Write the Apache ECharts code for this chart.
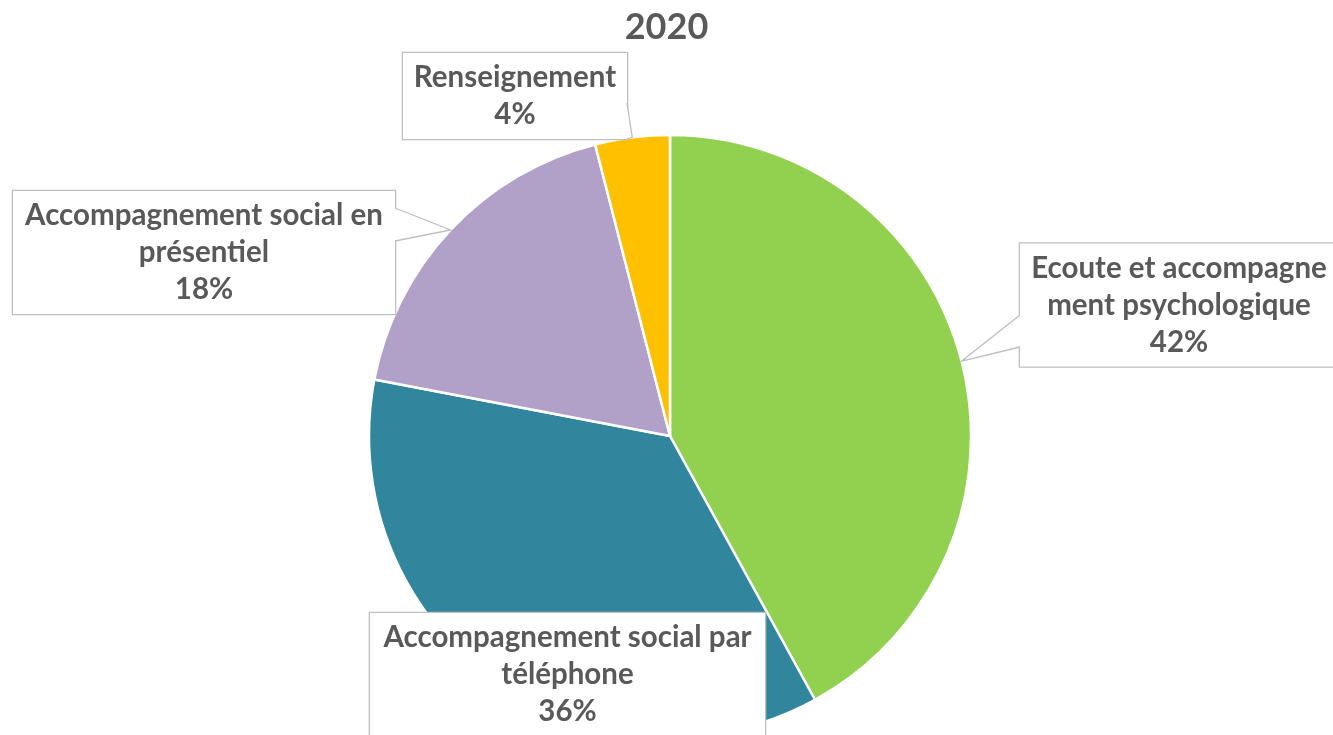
<!DOCTYPE html>
<html><head><meta charset="utf-8">
<script src="https://cdn.jsdelivr.net/npm/echarts@6/dist/echarts.min.js"></script>
<style>html,body{margin:0;padding:0;background:#fff}#c{width:1333px;height:735px}</style>
</head><body><div id="c"></div>
<script>
const chartTitle = '2020';
const categories = ['Ecoute et accompagnement psychologique', 'Accompagnement social par téléphone', 'Accompagnement social en présentiel', 'Renseignement'];
const labelTexts = ['Ecoute et accompagne\nment psychologique', 'Accompagnement social par\ntéléphone', 'Accompagnement social en\nprésentiel', 'Renseignement'];
const values = [42, 36, 18, 4];
const colors = ['#92D050', '#31859C', '#B1A0C7', '#FFC000'];

// layout (style) config
const CX = 670, CY = 436, R = 301;
const boxes = [
  { cx: 1179, cy: 305, w: 318, wedge: [[1020, 315], [1020, 347]], inward: [1, 0] },
  { cx: 567.5, cy: 674.5, w: 395, wedge: null },
  { cx: 204, cy: 252.5, w: 382, wedge: [[395, 208], [395, 241]], inward: [-1, 0] },
  { cx: 515, cy: 96, w: 224, wedge: [[627, 103], [627, 139]], inward: [-1, 0] }
];
const textColor = '#595959', boxBorder = '#BFBFBF';
const fontFam = 'Lato, "Open Sans", sans-serif';

const chart = echarts.init(document.getElementById('c'), null, { renderer: 'canvas' });

const total = values.reduce((a, b) => a + b, 0);
const graphics = [];
let cum = 0;
values.forEach((v, i) => {
  const start = cum / total * 360;
  cum += v;
  const end = cum / total * 360;
  const mid = (start + end) / 2 * Math.PI / 180;
  const tip = [CX + R * Math.sin(mid), CY - R * Math.cos(mid)];
  const b = boxes[i];
  if (!b.wedge) return;
  const [p1, p2] = b.wedge;
  const ix = b.inward[0] * 1.5, iy = b.inward[1] * 1.5;
  graphics.push({
    type: 'polygon', z: 100, silent: true,
    shape: { points: [[p1[0] + ix, p1[1] + iy + 0.7], p1, tip, p2, [p2[0] + ix, p2[1] + iy - 0.7]] },
    style: { fill: '#fff', stroke: null }
  });
  graphics.push({
    type: 'polyline', z: 101, silent: true,
    shape: { points: [p1, tip, p2] },
    style: { stroke: boxBorder, lineWidth: 1.3, fill: null }
  });
});

chart.setOption({
  backgroundColor: '#fff',
  animation: false,
  title: {
    text: chartTitle, left: 'center', top: 4,
    textStyle: { fontFamily: fontFam, fontWeight: 'bold', fontSize: 36, color: textColor }
  },
  graphic: graphics,
  series: [{
    type: 'pie',
    center: [CX, CY],
    radius: R,
    startAngle: 90,
    clockwise: true,
    avoidLabelOverlap: false,
    itemStyle: { borderColor: '#fff', borderWidth: 2.5 },
    label: {
      show: true,
      position: 'outside',
      fontFamily: fontFam, fontWeight: 'bold', fontSize: 29.5, color: textColor,
      lineHeight: 37,
      backgroundColor: '#fff', borderColor: boxBorder, borderWidth: 1.3,
      padding: [6, 0],
      align: 'center',
      formatter: p => labelTexts[p.dataIndex] + '\n' + Math.round(p.percent) + '%'
    },
    labelLine: { show: false },
    labelLayout: p => {
      const b = boxes[p.dataIndex];
      return { x: b.cx, y: b.cy, align: 'center', verticalAlign: 'middle' };
    },
    emphasis: { disabled: true },
    data: categories.map((name, i) => ({
      name, value: values[i],
      itemStyle: { color: colors[i] },
      label: { width: boxes[i].w }
    }))
  }]
});
</script></body></html>
